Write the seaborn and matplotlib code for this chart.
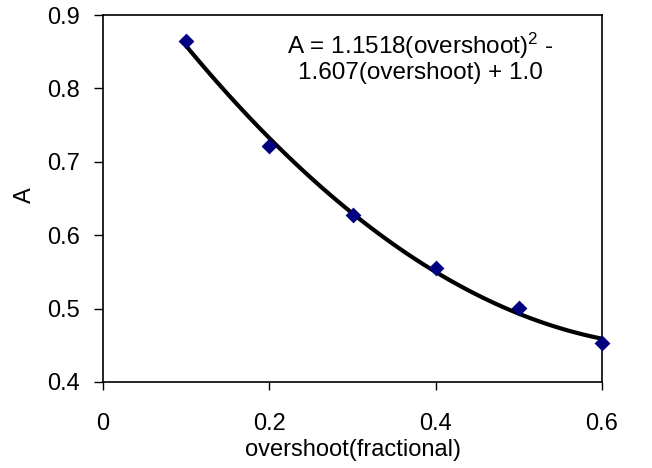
import matplotlib
matplotlib.use("Agg")
import matplotlib.pyplot as plt
import seaborn as sns
import pandas as pd

overshoot = [0.1, 0.2, 0.3, 0.4, 0.5, 0.6]
A_values = [0.865, 0.721, 0.627, 0.555, 0.501, 0.453]
x_ticks = [0, 0.2, 0.4, 0.6]
y_ticks = [0.4, 0.5, 0.6, 0.7, 0.8, 0.9]
equation_text = "A = 1.1518(overshoot)$^{2}$ -\n1.607(overshoot) + 1.0"

sns.set_theme(style="white")
plt.rcParams['font.family'] = ['Liberation Sans', 'DejaVu Sans']
plt.rcParams['mathtext.fontset'] = 'custom'
plt.rcParams['mathtext.rm'] = 'Liberation Sans'
plt.rcParams['mathtext.it'] = 'Liberation Sans'
plt.rcParams['mathtext.bf'] = 'Liberation Sans'

FS = 17

df = pd.DataFrame({"overshoot": overshoot, "A": A_values})

fig = plt.figure(figsize=(6.52, 4.68), dpi=100)
ax = fig.add_axes([103/652, 1-382/468, 499/652, 367/468])

sns.regplot(data=df, x="overshoot", y="A", order=2, ci=None, scatter=False,
            ax=ax, line_kws=dict(color="black", lw=3.0), truncate=True)
sns.scatterplot(data=df, x="overshoot", y="A", marker="D", color="#000080",
                s=65, edgecolor="#000080", linewidth=0, ax=ax, zorder=5, clip_on=False)

ax.set_xlim(0, 0.6)
ax.set_ylim(0.4, 0.9)
ax.set_xticks(x_ticks)
ax.set_xticklabels(["0", "0.2", "0.4", "0.6"])
ax.set_yticks(y_ticks)
ax.set_yticklabels([f"{v:.1f}" for v in y_ticks])

for s in ax.spines.values():
    s.set_color("black")
    s.set_linewidth(1.2)

ax.tick_params(axis="x", direction="out", length=6, width=1, colors="black",
               labelsize=FS, pad=16, bottom=True)
ax.tick_params(axis="y", direction="out", length=6.5, width=1, colors="black",
               labelsize=FS, pad=10, left=True)

ax.set_xlabel("overshoot(fractional)", fontsize=FS, color="black", labelpad=3)
ax.set_ylabel("A", fontsize=FS, color="black")
ax.yaxis.set_label_coords(-0.135, 0.51)

ax.text(420/652, 1-57/468, equation_text, transform=fig.transFigure,
        ha="center", va="center", fontsize=17.5, color="black", linespacing=1.05)

fig.savefig("out.png", dpi=100, facecolor="white")
